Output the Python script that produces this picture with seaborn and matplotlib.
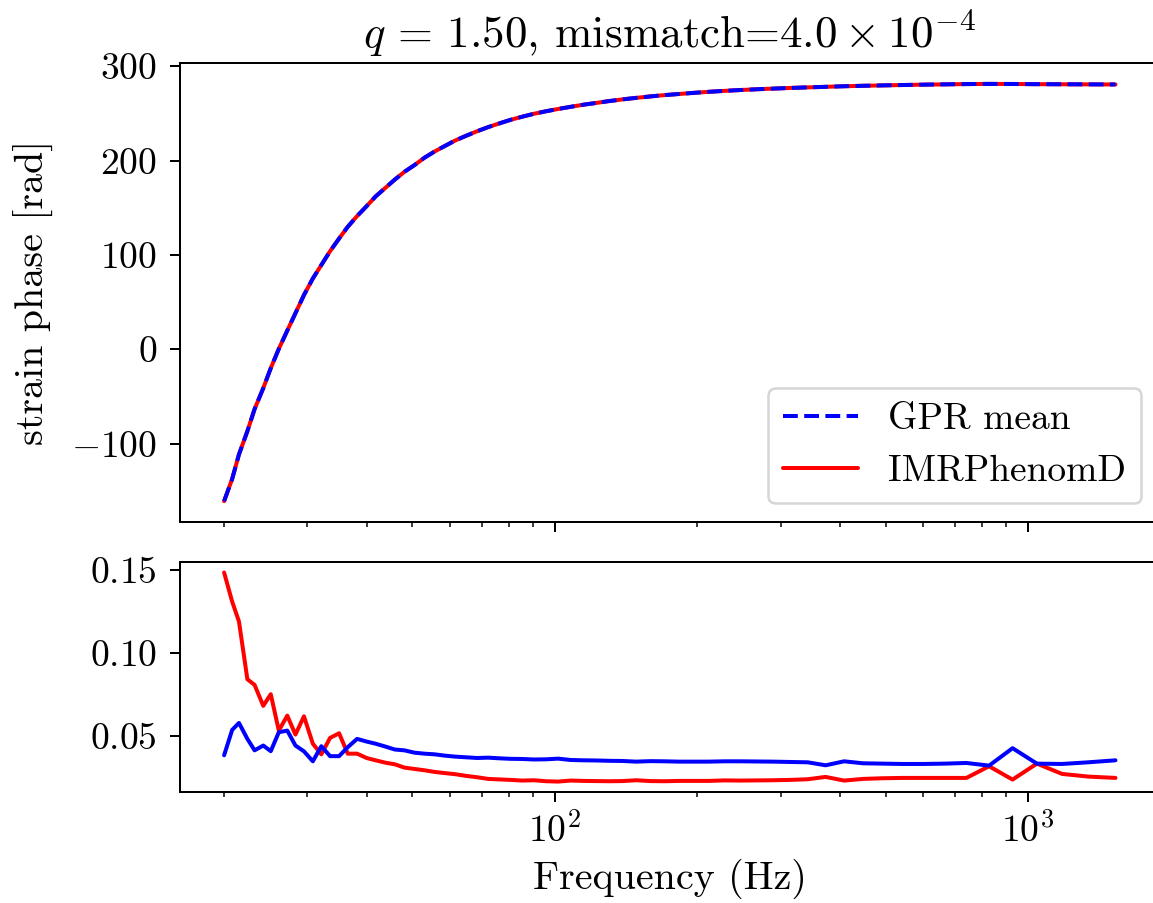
import matplotlib
matplotlib.use("Agg")
import matplotlib.pyplot as plt
import seaborn as sns

# Frequency samples (Hz)
freq_hz = [20.0, 20.8, 21.5, 22.4, 23.2, 24.2, 25.1, 26.1, 27.2, 28.3,
           29.5, 30.8, 32.1, 33.5, 35.0, 36.5, 38.2, 40.0, 41.8, 43.8,
           45.9, 48.1, 50.5, 53.0, 55.7, 58.6, 61.7, 65.0, 68.5, 72.3,
           76.3, 80.6, 85.3, 90.3, 95.8, 101.6, 108.0, 114.8, 122.2, 130.3,
           139.0, 148.6, 159.0, 170.4, 182.9, 196.6, 211.6, 228.2, 246.5, 266.8,
           289.3, 314.3, 342.2, 373.5, 408.5, 447.9, 492.6, 542.8, 600.2, 665.7,
           740.8, 827.3, 927.4, 1043.9, 1180.1, 1340.3, 1530.0]

# Strain phase (rad) from the IMRPhenomD waveform
phase_imr = [-161.0, -137.5, -111.5, -86.8, -63.4, -41.2, -20.0, 0.4, 19.8, 38.2,
             57.5, 75.0, 89.3, 104.0, 117.4, 129.8, 141.2, 151.6, 162.0, 170.9,
             179.9, 188.1, 195.2, 203.0, 209.6, 215.6, 221.5, 226.4, 231.1, 235.5,
             239.4, 243.2, 246.5, 249.6, 252.3, 254.7, 257.0, 259.2, 261.1, 263.1,
             264.9, 266.5, 268.0, 269.4, 270.6, 271.8, 272.9, 273.9, 274.8, 275.6,
             276.3, 277.0, 277.6, 278.2, 278.8, 279.3, 279.7, 280.1, 280.5, 280.8,
             281.1, 281.3, 281.2, 281.0, 280.9, 280.8, 280.7]

# GPR mean prediction: indistinguishable from IMRPhenomD at this scale
phase_gpr = list(phase_imr)

# Lower panel: GPR (blue) and IMRPhenomD (red) residual curves
resid_gpr = [0.0385, 0.0538, 0.0580, 0.0484, 0.0415, 0.0444, 0.0410, 0.0524, 0.0534, 0.0444,
             0.0409, 0.0349, 0.0440, 0.0380, 0.0380, 0.0434, 0.0484, 0.0468, 0.0455, 0.0438,
             0.0420, 0.0415, 0.0401, 0.0395, 0.0391, 0.0383, 0.0377, 0.0373, 0.0369, 0.0371,
             0.0367, 0.0364, 0.0363, 0.0360, 0.0361, 0.0365, 0.0357, 0.0355, 0.0354, 0.0352,
             0.0351, 0.0347, 0.0350, 0.0349, 0.0347, 0.0347, 0.0347, 0.0349, 0.0349, 0.0348,
             0.0347, 0.0345, 0.0343, 0.0325, 0.0349, 0.0337, 0.0335, 0.0333, 0.0333, 0.0335,
             0.0339, 0.0323, 0.0428, 0.0335, 0.0333, 0.0343, 0.0355]

resid_imr = [0.1486, 0.1311, 0.1191, 0.0843, 0.0809, 0.0683, 0.0753, 0.0534, 0.0624, 0.0510,
             0.0620, 0.0455, 0.0391, 0.0490, 0.0518, 0.0395, 0.0395, 0.0369, 0.0355, 0.0341,
             0.0331, 0.0311, 0.0303, 0.0295, 0.0285, 0.0278, 0.0271, 0.0261, 0.0253, 0.0243,
             0.0240, 0.0237, 0.0233, 0.0235, 0.0229, 0.0227, 0.0233, 0.0231, 0.0230, 0.0229,
             0.0230, 0.0235, 0.0230, 0.0229, 0.0231, 0.0231, 0.0231, 0.0234, 0.0233, 0.0234,
             0.0235, 0.0237, 0.0241, 0.0255, 0.0233, 0.0243, 0.0247, 0.0249, 0.0249, 0.0249,
             0.0249, 0.0319, 0.0239, 0.0335, 0.0273, 0.0257, 0.0249]

title_text = r"$q\,=\,1.50$, mismatch=$4.0 \times 10^{-4}$"

sns.set_theme(style="ticks", rc={
    "axes.edgecolor": "black", "axes.linewidth": 0.8,
    "xtick.color": "black", "ytick.color": "black",
    "text.color": "black", "axes.labelcolor": "black",
    "xtick.major.size": 4.0, "ytick.major.size": 4.0,
    "xtick.minor.size": 2.0, "ytick.minor.size": 2.0,
    "xtick.major.width": 0.8, "ytick.major.width": 0.8,
    "xtick.minor.width": 0.6, "ytick.minor.width": 0.6,
    "xtick.major.pad": 4.0, "ytick.major.pad": 5.0,
    "font.size": 15, "axes.labelsize": 16, "axes.titlesize": 18,
    "xtick.labelsize": 15, "ytick.labelsize": 15, "legend.fontsize": 15,
})
plt.rcParams["font.family"] = "serif"
plt.rcParams["font.serif"] = ["cmr10", "DejaVu Serif"]
plt.rcParams["mathtext.fontset"] = "cm"
plt.rcParams["axes.formatter.use_mathtext"] = True
plt.rcParams["axes.unicode_minus"] = True

DPI = 180
fig = plt.figure(figsize=(1153 / DPI, 903 / DPI), dpi=DPI)
ax_bot = fig.add_axes([0.1557, 0.1229, 0.8504, 0.2547])
ax_top = fig.add_axes([0.1557, 0.4219, 0.8504, 0.5083], sharex=ax_bot)

lw = 1.6
sns.lineplot(x=freq_hz, y=phase_imr, ax=ax_top, color="red", lw=lw, label="IMRPhenomD")
sns.lineplot(x=freq_hz, y=phase_gpr, ax=ax_top, color="blue", lw=lw, ls="--", label="GPR mean")
sns.lineplot(x=freq_hz, y=resid_imr, ax=ax_bot, color="red", lw=lw)
sns.lineplot(x=freq_hz, y=resid_gpr, ax=ax_bot, color="blue", lw=lw)

ax_bot.set_xscale("log")
ax_top.set_ylabel("strain phase [rad]", labelpad=7)
ax_top.set_xlabel("")
ax_bot.set_xlabel("Frequency (Hz)")
ax_bot.set_ylabel("")
ax_bot.set_yticks([0.05, 0.10, 0.15])
ax_top.set_yticks([-100, 0, 100, 200, 300])
ax_top.tick_params(axis="x", which="both", labelbottom=False)
ax_top.set_title(title_text, fontsize=18)

handles, labels = ax_top.get_legend_handles_labels()
order = [labels.index("GPR mean"), labels.index("IMRPhenomD")]
ax_top.legend([handles[i] for i in order], [labels[i] for i in order],
              loc="lower right", frameon=True, handlelength=2.0)

fig.savefig("out.png", dpi=DPI)
